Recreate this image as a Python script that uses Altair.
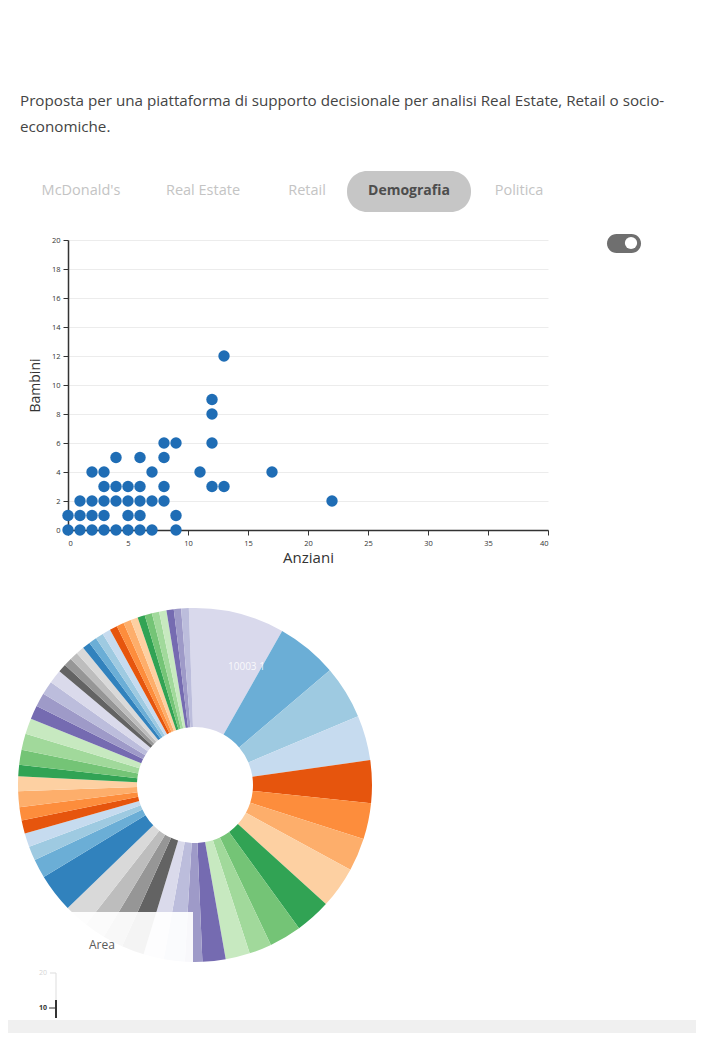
import altair as alt
import pandas as pd
import math

# ---------------- data ----------------
header_lines = [
    "Proposta per una piattaforma di supporto decisionale per analisi Real Estate, Retail o socio-",
    "economiche.",
]
tabs = ["McDonald's", "Real Estate", "Retail", "Demografia", "Politica"]
active_tab = "Demografia"

anziani = [0, 1, 2, 3, 4, 5, 6, 7, 9,
           0, 1, 2, 3, 5, 6, 9,
           1, 2, 3, 4, 5, 6, 7, 8, 22,
           3, 4, 5, 6, 8, 12, 13,
           2, 3, 7, 11, 17,
           4, 6, 8,
           8, 9, 12,
           12, 12, 13]
bambini = [0, 0, 0, 0, 0, 0, 0, 0, 0,
           1, 1, 1, 1, 1, 1, 1,
           2, 2, 2, 2, 2, 2, 2, 2, 2,
           3, 3, 3, 3, 3, 3, 3,
           4, 4, 4, 4, 4,
           5, 5, 5,
           6, 6, 6,
           8, 9, 12]

area_values = [315, 201, 175, 148, 140, 119, 108, 137, 117, 106, 74, 80,
               76, 57, 69, 67, 74, 67, 70, 80, 127, 62, 47, 45, 43, 44,
               52, 48, 38, 49, 53, 52, 45, 45, 45, 45, 27, 27, 27, 27,
               26, 26, 26, 27, 25, 24, 25, 24, 24, 24, 24, 24, 24, 24, 25]
zone_names = [f"Zona {i + 1}" for i in range(len(area_values))]
big_label = "10003 1"
tooltip_title = "Area"
mini_axis_labels = ["20", "10"]

# ---------------- styling helpers ----------------
OX, OY = 68, 240          # page position of the scatter plot origin
def px(X):
    return X - OX
def py(Y):
    return Y - OY

FONT = "Open Sans"
c20c = ["#3182bd", "#6baed6", "#9ecae1", "#c6dbef", "#e6550d", "#fd8d3c",
        "#fdae6b", "#fdd0a2", "#31a354", "#74c476", "#a1d99b", "#c7e9c0",
        "#756bb1", "#9e9ac8", "#bcbddc", "#dadaeb", "#636363", "#969696",
        "#bdbdbd", "#d9d9d9"]
slice_colors = ["#d9d9ec"] + [c20c[i % 20] for i in range(1, len(area_values))]

one = pd.DataFrame({"k": [0]})

def rect(x1, x2, y1, y2, fill, radius=0, opacity=1.0):
    return alt.Chart(one).mark_rect(fill=fill, cornerRadius=radius, opacity=opacity).encode(
        x=alt.value(px(x1)), x2=alt.value(px(x2)),
        y=alt.value(py(y1)), y2=alt.value(py(y2)))

def rule(x1, x2, y1, y2, color, width=1.0):
    return alt.Chart(one).mark_rule(color=color, strokeWidth=width).encode(
        x=alt.value(px(x1)), x2=alt.value(px(x2)),
        y=alt.value(py(y1)), y2=alt.value(py(y2)))

def label(txt, X, Y, size, color, align="left", weight="normal", opacity=1.0):
    return alt.Chart(one).mark_text(text=txt, font=FONT, fontSize=size, color=color,
                                    align=align, baseline="middle", fontWeight=weight,
                                    opacity=opacity).encode(
        x=alt.value(px(X)), y=alt.value(py(Y)))

layers = []
# invisible page frame (fixes the overall bounds)
layers.append(rect(8, 696, 8, 1033, "white", opacity=0))

# header
layers.append(label(header_lines[0], 20, 101, 15.2, "#444444"))
layers.append(label(header_lines[1], 20, 127, 15.2, "#444444"))

# tabs
tab_x = [81, 203, 307, 409, 519]
layers.append(rect(347, 471, 171, 212, "#c6c6c6", radius=20))
for name, X in zip(tabs, tab_x):
    if name == active_tab:
        layers.append(label(name, X, 191, 14, "#4d4d4d", align="center", weight="bold"))
    else:
        layers.append(label(name, X, 191, 14.5, "#c4c4c4", align="center"))

# toggle
layers.append(rect(607, 641, 234, 253, "#6f6f6f", radius=10))
layers.append(alt.Chart(one).mark_circle(size=150, color="white", opacity=1).encode(
    x=alt.value(px(631)), y=alt.value(py(243))))

# scatter
scatter_df = pd.DataFrame({"Anziani": anziani, "Bambini": bambini})
scatter = alt.Chart(scatter_df).mark_circle(size=130, color="#1f6db5", opacity=1).encode(
    x=alt.X("Anziani:Q", scale=alt.Scale(domain=[0, 40], nice=False),
            axis=alt.Axis(values=list(range(0, 41, 5)), grid=False, title="Anziani",
                          titleFontSize=15, titleFontWeight="normal", titleColor="#333",
                          titleFont=FONT, titlePadding=4, labelFontSize=7.5, labelColor="#333",
                          domainColor="#333", domainWidth=1.5, tickColor="#333",
                          tickSize=5, labelPadding=4)),
    y=alt.Y("Bambini:Q", scale=alt.Scale(domain=[0, 20], nice=False),
            axis=alt.Axis(values=list(range(0, 21, 2)), grid=True, gridColor="#ececec",
                          title="Bambini", titleFontSize=14, titleFontWeight="normal",
                          titleColor="#333", titleFont=FONT, titlePadding=9,
                          labelFontSize=7.5, labelColor="#333", domainColor="#333",
                          domainWidth=1.5, tickColor="#333", tickSize=5, labelPadding=3)),
)
layers.append(scatter)

# donut
pie_df = pd.DataFrame({"zona": zone_names, "area": area_values,
                       "ordine": list(range(len(area_values)))})
start = math.radians(-2)
end = math.radians(358)
pie = alt.Chart(pie_df).mark_arc(radius=177, radius2=58).encode(
    theta=alt.Theta("area:Q", stack=True, scale=alt.Scale(range=[start, end])),
    color=alt.Color("zona:N", scale=alt.Scale(domain=zone_names, range=slice_colors),
                    legend=None),
    order=alt.Order("ordine:Q"),
    x=alt.value(px(195)), y=alt.value(py(785)),
)
layers.append(pie)
layers.append(label(big_label, 228, 667, 10, "white", opacity=0.85))

# tooltip-like box
layers.append(rect(70, 193, 912, 966, "white", opacity=0.93))
layers.append(label(tooltip_title, 89, 945, 12, "#5a5a5a"))

# mini axis fragment at the bottom
layers.append(rule(56, 56, 973, 1018, "#dddddd", 1))
layers.append(rule(50, 56, 973, 973, "#dddddd", 1))
layers.append(label(mini_axis_labels[0], 47, 973, 7, "#d5d5d5", align="right"))
layers.append(rule(56, 56, 1000, 1018, "#333333", 2))
layers.append(rule(49, 56, 1008, 1008, "#333333", 1))
layers.append(label(mini_axis_labels[1], 47, 1008, 7, "#333333", align="right", weight="bold"))

# footer band
layers.append(rect(8, 696, 1020, 1033, "#f0f0f0"))

chart = alt.layer(*layers).properties(
    width=480, height=290, padding=0, background="white"
).configure_view(stroke=None).configure_axis(labelFont=FONT)

chart.save("out.html", embed_options={"renderer": "svg", "actions": False})
